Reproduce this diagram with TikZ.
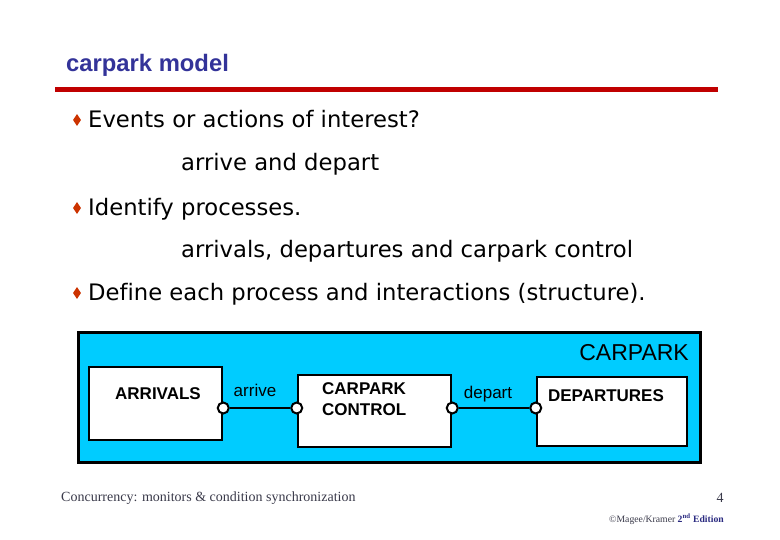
\documentclass[tikz,border=0pt]{standalone}
\usepackage{fontspec}
\setmainfont{Liberation Serif}
\setsansfont{Liberation Sans}
\newfontfamily\comicfont[Ligatures=NoCommon]{DejaVu Sans}
\usetikzlibrary{shapes.geometric}
\definecolor{titleblue}{HTML}{333399}
\definecolor{rulered}{HTML}{C00000}
\definecolor{bulletred}{HTML}{CC3300}
\definecolor{skyfill}{HTML}{00CCFF}
\definecolor{footgray}{HTML}{3A3A4A}
\definecolor{footblue}{HTML}{2A2A80}
\begin{document}
\begin{tikzpicture}[x=1pt,y=-1pt,
  bulletmark/.style={diamond,fill=bulletred,minimum width=8pt,minimum height=12pt,inner sep=0pt},
  bodytext/.style={anchor=base west,inner sep=0pt,font=\comicfont\fontsize{22.7}{26}\selectfont},
  procbox/.style={draw,fill=white,line width=2.5pt,rectangle,inner sep=0pt},
  portmark/.style={circle,draw,fill=white,line width=2pt,minimum size=11pt,inner sep=0pt},
  boxlabel/.style={inner sep=0pt,font=\sffamily\bfseries\fontsize{17}{21}\selectfont},
  actlabel/.style={inner sep=0pt,font=\sffamily\fontsize{17}{20}\selectfont},
  wire/.style={line width=2.5pt}]
\useasboundingbox (0,0) rectangle (780,540);
\fill[white] (0,0) rectangle (780,540);
% title
\node[anchor=base west,inner sep=0pt,text=titleblue,font=\sffamily\bfseries\fontsize{23.8}{28}\selectfont] (title) at (66,72) {carpark model};
\coordinate (ruleL) at (55,90);
\coordinate (ruleR) at (718,90);
\draw[rulered,line width=5pt] (ruleL) -- (ruleR);
% bullets
\node[bulletmark] (b1) at (77,120) {};
\node[bulletmark] (b2) at (77,208) {};
\node[bulletmark] (b3) at (77,293) {};
\node[bodytext] (t1) at (88,128) {Events or actions of interest?};
\node[bodytext] (t1a) at (181,171) {arrive and depart};
\node[bodytext] (t2) at (88,216) {Identify processes.};
\node[bodytext] (t2a) at (181,258) {arrivals, departures and carpark control};
\node[bodytext] (t3) at (88,301) {Define each process and interactions (structure).};
% diagram
\node[draw,fill=skyfill,line width=3pt,minimum width=622pt,minimum height=130pt,inner sep=0pt] (carpark) at (389.5,397.5) {};
\node[anchor=east,inner sep=0pt,font=\sffamily\fontsize{23}{26}\selectfont] (cplabel) at (689,353) {CARPARK};
\node[procbox,minimum width=133pt,minimum height=73pt] (arrivals) at (155.5,403.5) {};
\node[procbox,minimum width=153pt,minimum height=72pt] (control) at (374.5,411) {};
\node[procbox,minimum width=150pt,minimum height=69pt] (departures) at (612,411.5) {};
\node[boxlabel] (arrivalsT) at (158,394) {ARRIVALS};
\node[boxlabel,anchor=west,align=left] (controlT) at (322,399) {CARPARK\\CONTROL};
\node[boxlabel] (departuresT) at (606,396) {DEPARTURES};
\node[portmark] (p1) at (arrivals.east |- 0,408) {};
\node[portmark] (p2) at (control.west |- 0,408) {};
\node[portmark] (p3) at (control.east |- 0,408) {};
\node[portmark] (p4) at (departures.west |- 0,408) {};
\draw[wire] (p1) -- (p2);
\draw[wire] (p3) -- (p4);
\node[actlabel] (arriveT) at (255,390) {arrive};
\node[actlabel] (departT) at (488,394) {depart};
% footer
\node[anchor=west,inner sep=0pt,text=footgray,font=\rmfamily\fontsize{14}{16}\selectfont] (foot) at (61,498) {Concurrency: monitors \& condition synchronization};
\node[inner sep=0pt,text=footgray,font=\rmfamily\fontsize{14}{16}\selectfont] (pnum) at (720,498) {4};
\node[anchor=east,inner sep=0pt,text=footgray,font=\rmfamily\fontsize{9.7}{11}\selectfont] (copy) at (724,519) {©Magee/Kramer \textcolor{footblue}{\textbf{2\textsuperscript{nd} Edition}}};
\end{tikzpicture}
\end{document}
